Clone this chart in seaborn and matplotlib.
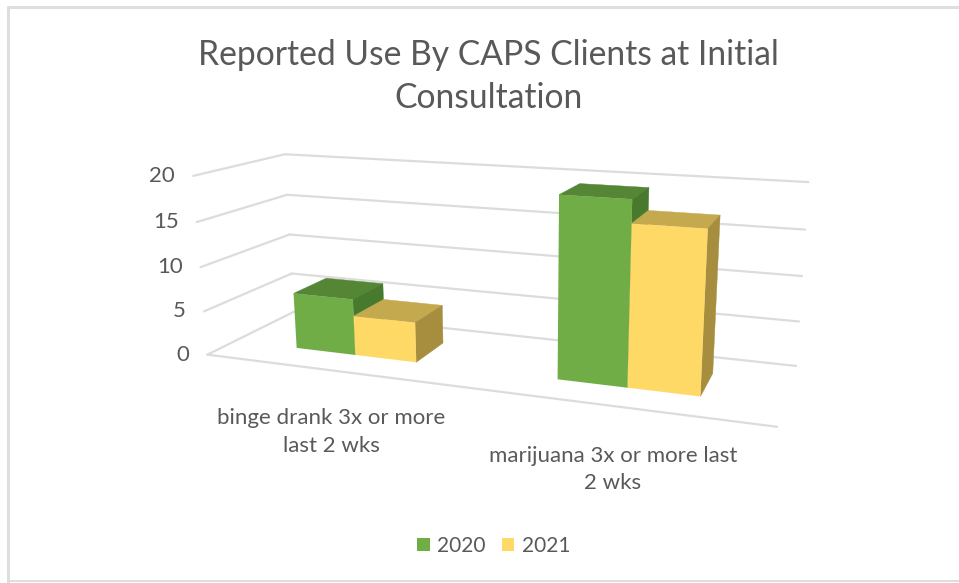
import numpy as np
import pandas as pd
import matplotlib
matplotlib.use("Agg")
import matplotlib.pyplot as plt
from matplotlib.patches import Polygon, Rectangle
from matplotlib.transforms import Affine2D, IdentityTransform, Transform
import seaborn as sns

TITLE = "Reported Use By CAPS Clients at Initial\nConsultation"
categories = ["binge drank 3x or more\nlast 2 wks", "marijuana 3x or more last\n2 wks"]
years = ["2020", "2021"]
values_2020 = [6.4, 19.4]
values_2021 = [4.5, 17]
z_ticks = [0, 5, 10, 15, 20]

W, H = 959, 583
GREY = "#595959"
FONT = "Lato"
PIX = IdentityTransform()

sns.set_theme(style="white", rc={"font.family": FONT})
fig = plt.figure(figsize=(W / 100, H / 100), dpi=100, facecolor="white")
ax = fig.add_axes([0, 0, 1, 1])

df = pd.DataFrame({
    "category": categories * 2,
    "year": [years[0]] * 2 + [years[1]] * 2,
    "value": values_2020 + values_2021,
})
sns.barplot(data=df, x="category", y="value", hue="year", ax=ax, width=0.48, gap=0,
            palette=["#70AD47", "#FFD966"], saturation=1, edgecolor="none", linewidth=0,
            errorbar=None, legend=True)
ax.set_xlim(-0.5, 1.5)
ax.set_ylim(0, 20)
ax.axis("off")

# camera calibration: box (x, depth, z) -> image pixels
landmarks = [
    ((-.5, 0, 0), (207, 355)), ((-.5, 0, 5), (204, 311)), ((-.5, 0, 10), (201, 267)),
    ((-.5, 0, 15), (197, 222)), ((-.5, 0, 20), (193, 176)),
    ((-.5, 1, 0), (294, 312)), ((-.5, 1, 5), (292, 273)), ((-.5, 1, 10), (289, 235)),
    ((-.5, 1, 15), (287, 195)), ((-.5, 1, 20), (285, 154)),
    ((1.5, 1, 0), (796, 366)), ((1.5, 1, 5), (799, 321)), ((1.5, 1, 10), (802, 276)),
    ((1.5, 1, 15), (806, 230)), ((1.5, 1, 20), (808, 182)),
    ((1.5, 0, 0), (777, 427)),
]
rows, rhs = [], []
for (X, Y, Z), (u, v) in landmarks:
    rows.append([X, Y, Z, 1, 0, 0, 0, 0, -u * X, -u * Y, -u * Z]); rhs.append(u)
    rows.append([0, 0, 0, 0, X, Y, Z, 1, -v * X, -v * Y, -v * Z]); rhs.append(v)
P = np.append(np.linalg.lstsq(np.array(rows, float), np.array(rhs, float), rcond=None)[0], 1).reshape(3, 4)


def project(X, Y, Z):
    q = P @ np.array([X, Y, Z, 1.0])
    return q[0] / q[2], q[1] / q[2]


to_display = Affine2D().scale(1, -1).translate(0, H)


class FrontFace(Transform):
    """Data (x, value) on a vertical plane at fixed depth -> display."""
    input_dims = output_dims = 2

    def __init__(self, plane_depth):
        super().__init__()
        self.plane_depth = plane_depth

    def transform_non_affine(self, pts):
        out = [project(x, self.plane_depth, z) for x, z in np.asarray(pts)]
        return to_display.transform(np.array(out))


def poly(corners, color, z):
    ax.add_patch(Polygon(to_display.transform(np.array([project(*c) for c in corners])),
                         closed=True, facecolor=color, edgecolor=color, linewidth=0.3,
                         transform=PIX, zorder=z, clip_on=False))


def line(a, b):
    pts = to_display.transform(np.array([project(*a), project(*b)]))
    ax.plot(pts[:, 0], pts[:, 1], color="#DCDCDC", lw=1.6, transform=PIX, zorder=1,
            clip_on=False, solid_capstyle="round", scalex=False, scaley=False)


for z in z_ticks:
    line((-.5, 0, z), (-.5, 1, z))
    line((-.5, 1, z), (1.5, 1, z))
line((-.5, 0, 0), (1.5, 0, 0))

D0, D1 = 0.3, 0.7
shade = {0: ("#558636", "#477A2C"), 1: ("#C5A94F", "#A68E3E")}
for s, container in enumerate(ax.containers):
    for b in container:
        x0, x1, h = b.get_x(), b.get_x() + b.get_width(), b.get_height()
        z = 3 + s * 2
        poly([(x0, D0, h), (x1, D0, h), (x1, D1, h), (x0, D1, h)], shade[s][0], z)
        poly([(x1, D0, 0), (x1, D1, 0), (x1, D1, h), (x1, D0, h)], shade[s][1], z)
        b.set_transform(FrontFace(D0))
        b.set_zorder(z + 1)
        b.set_clip_on(False)

for z in z_ticks:
    u, v = project(-.5, 0, z)
    ax.text(u - 18, H - v, str(z), ha="right", va="center", fontsize=16, color=GREY,
            family=FONT, transform=PIX)

for label, (cx, cy) in zip(categories, [(331, 432), (613, 469.5)]):
    ax.text(cx, H - cy, label, ha="center", va="center", fontsize=16, color=GREY,
            family=FONT, linespacing=1.48, transform=PIX)

fig.text(488 / W, 1 - 76.5 / H, TITLE, ha="center", va="center", fontsize=24.2, color=GREY,
         family=FONT, linespacing=1.43)

sns.move_legend(ax, "center", bbox_to_anchor=(493.5 / W, 1 - 546 / H), ncols=2, title=None,
                frameon=False, fontsize=15, labelcolor=GREY, handlelength=0.62, handleheight=0.62,
                handletextpad=0.34, columnspacing=0.77)

for rect in [(7, 6, 952, 2.5), (7, 6, 2.5, 577), (7, 580, 952, 1.5)]:
    fig.add_artist(Rectangle((rect[0] / W, 1 - (rect[1] + rect[3]) / H), rect[2] / W, rect[3] / H,
                             transform=fig.transFigure, facecolor="#DEDEDE", edgecolor="none"))

fig.savefig("out.png", dpi=100, facecolor="white")
